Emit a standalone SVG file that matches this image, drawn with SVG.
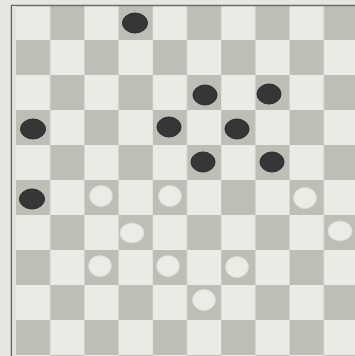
<svg xmlns="http://www.w3.org/2000/svg" width="355" height="356" viewBox="0 0 355 356">
<defs>
<style>
.l{fill:#ebeae5}
.d{fill:#bdbfb7}
.b{fill:#363636;stroke:#2a2a2a;stroke-width:1}
.w{fill:#ecebe6;stroke:#d8d8d2;stroke-width:0.8}
</style>
<pattern id="sq" x="16" y="5" width="68.4" height="70" patternUnits="userSpaceOnUse">
<rect width="68.4" height="70" class="l"/>
<rect x="34.2" y="0" width="34.2" height="35" class="d"/>
<rect x="0" y="35" width="34.2" height="35" class="d"/>
</pattern>
</defs>
<rect width="355" height="356" fill="#e6e7e3"/>
<g id="board">
<rect x="16" y="5" width="340" height="351" fill="url(#sq)"/>
<line x1="11.5" y1="5" x2="11.5" y2="356" stroke="#5a5f5a" stroke-width="1.5"/>
<line x1="11" y1="5.5" x2="355" y2="5.5" stroke="#6a6d68" stroke-width="1.5"/>
<rect x="12" y="6" width="4" height="350" fill="#e3e3de"/>
</g>
<g id="black">
<ellipse class="b" cx="135" cy="23" rx="12.5" ry="10"/>
<ellipse class="b" cx="205" cy="95" rx="12" ry="10"/>
<ellipse class="b" cx="269" cy="94" rx="12" ry="10"/>
<ellipse class="b" cx="33" cy="129" rx="12.5" ry="10"/>
<ellipse class="b" cx="169" cy="127" rx="12" ry="10"/>
<ellipse class="b" cx="237" cy="129" rx="12" ry="10"/>
<ellipse class="b" cx="203" cy="162" rx="12" ry="10"/>
<ellipse class="b" cx="272" cy="162" rx="12" ry="10"/>
<ellipse class="b" cx="32" cy="199" rx="12.5" ry="10"/>
</g>
<g id="white">
<ellipse class="w" cx="101" cy="196" rx="11.5" ry="10.5"/>
<ellipse class="w" cx="170" cy="196" rx="11.5" ry="10.5"/>
<ellipse class="w" cx="305" cy="198" rx="11.5" ry="10.5"/>
<ellipse class="w" cx="132" cy="233" rx="12" ry="10"/>
<ellipse class="w" cx="340" cy="231" rx="12" ry="10"/>
<ellipse class="w" cx="100" cy="266" rx="11.5" ry="10.5"/>
<ellipse class="w" cx="168" cy="266" rx="11.5" ry="10.5"/>
<ellipse class="w" cx="237" cy="267" rx="11.5" ry="10.5"/>
<ellipse class="w" cx="204" cy="300" rx="11.5" ry="10.5"/>
</g>
</svg>
